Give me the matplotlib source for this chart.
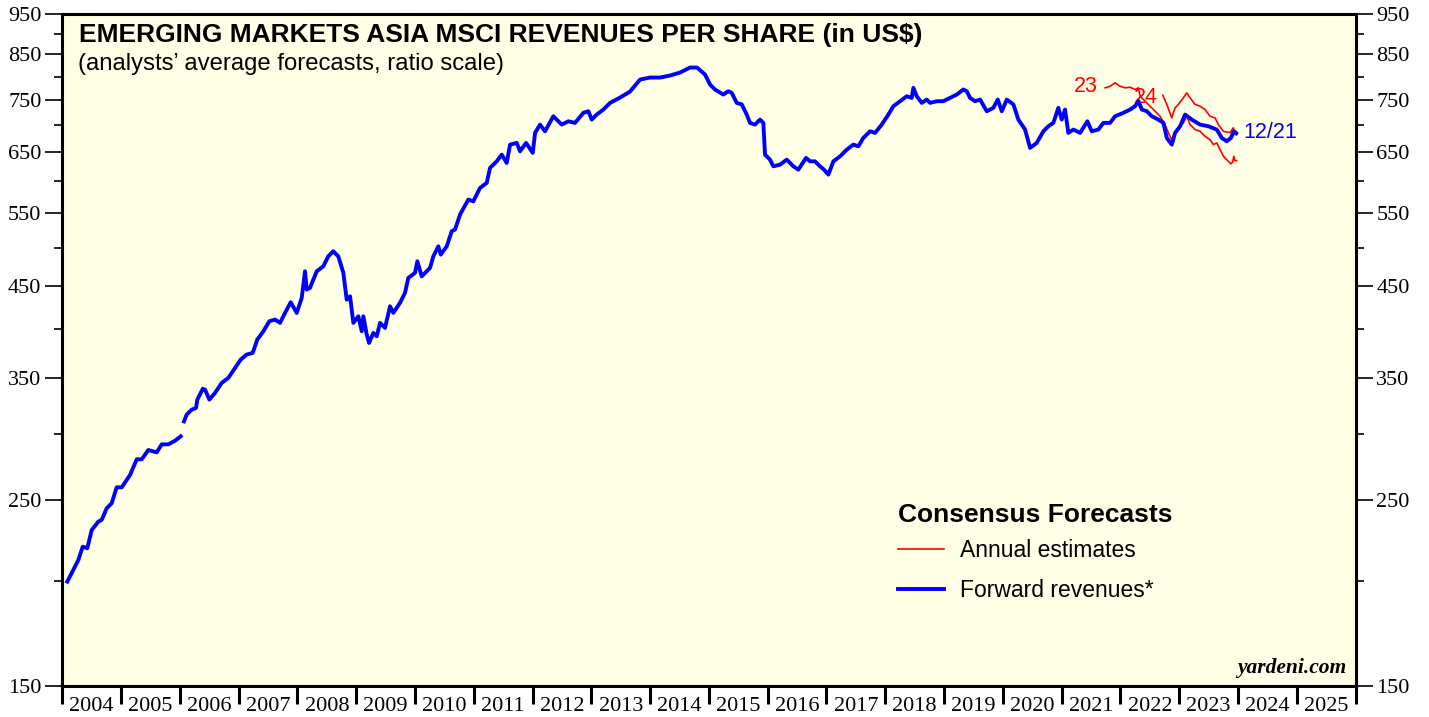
"""plot.py"""

import matplotlib
matplotlib.use("Agg")
import matplotlib.pyplot as plt
import matplotlib.ticker as mticker
import numpy as np

# forward revenues per share (decimal year, US$)
fwd_year = [
    2004.085, 2004.187, 2004.272, 2004.347, 2004.425, 2004.500, 2004.612, 2004.670,
    2004.755, 2004.840, 2004.925, 2005.011, 2005.152, 2005.266, 2005.351, 2005.463,
    2005.606, 2005.691, 2005.803, 2005.917, 2006.014, 2006.040,
    2006.070, 2006.116, 2006.201, 2006.275, 2006.297, 2006.389, 2006.428, 2006.501,
    2006.598, 2006.712, 2006.824, 2006.882, 2006.938, 2007.035, 2007.137, 2007.239,
    2007.317, 2007.420, 2007.522, 2007.619, 2007.704, 2007.789, 2007.886, 2007.988,
    2008.073, 2008.129, 2008.158, 2008.214, 2008.328, 2008.440, 2008.525, 2008.610,
    2008.695, 2008.781, 2008.838, 2008.895, 2008.951, 2009.036, 2009.094, 2009.121,
    2009.179, 2009.218, 2009.291, 2009.349, 2009.405, 2009.490, 2009.575, 2009.631,
    2009.745, 2009.830, 2009.886, 2010.000, 2010.040, 2010.114, 2010.255, 2010.312,
    2010.397, 2010.438, 2010.540, 2010.625, 2010.681, 2010.766, 2010.907, 2010.992,
    2011.106, 2011.220, 2011.276, 2011.390, 2011.475, 2011.560, 2011.617, 2011.731,
    2011.787, 2011.889, 2012.003, 2012.042, 2012.127, 2012.212, 2012.353, 2012.496,
    2012.608, 2012.722, 2012.864, 2012.949, 2013.006, 2013.091, 2013.204, 2013.318,
    2013.488, 2013.658, 2013.828, 2013.998, 2014.168, 2014.338, 2014.508, 2014.678,
    2014.798, 2014.934, 2015.019, 2015.104, 2015.245, 2015.330, 2015.388, 2015.473,
    2015.558, 2015.643, 2015.699, 2015.784, 2015.869, 2015.926, 2015.954, 2016.039,
    2016.096, 2016.210, 2016.324, 2016.436, 2016.521, 2016.652, 2016.720, 2016.805,
    2016.890, 2016.958, 2017.032, 2017.117, 2017.231, 2017.345, 2017.457, 2017.542,
    2017.627, 2017.741, 2017.826, 2017.940, 2018.053, 2018.137, 2018.251, 2018.365,
    2018.450, 2018.478, 2018.535, 2018.621, 2018.706, 2018.762, 2018.876, 2018.988,
    2019.102, 2019.216, 2019.328, 2019.386, 2019.442, 2019.527, 2019.613, 2019.727,
    2019.839, 2019.914, 2019.982, 2020.067, 2020.179, 2020.264, 2020.378, 2020.463,
    2020.577, 2020.689, 2020.774, 2020.859, 2020.944, 2021.002, 2021.058, 2021.114,
    2021.200, 2021.314, 2021.438, 2021.513, 2021.625, 2021.710, 2021.824, 2021.909,
    2022.050, 2022.164, 2022.249, 2022.306, 2022.364, 2022.449, 2022.534, 2022.646,
    2022.731, 2022.789, 2022.874, 2022.930, 2023.015, 2023.100, 2023.214, 2023.355,
    2023.496, 2023.639, 2023.724, 2023.809, 2023.880, 2023.930, 2023.970,
]
fwd_value = [
    199.8, 206.3, 212.0, 219.9, 219.0, 230.2, 235.6, 236.7,
    244.4, 247.8, 258.9, 258.9, 267.8, 279.6, 279.6, 286.8,
    285.0, 291.3, 291.3, 294.2, 297.8, np.nan,
    310.3, 316.1, 320.4, 322.0, 329.4, 339.3, 338.6, 329.4,
    335.5, 344.9, 349.6, 354.5, 359.4, 367.7, 372.8, 374.5,
    388.5, 397.4, 408.5, 410.4, 406.7, 418.0, 430.4, 418.0,
    435.6, 468.6, 445.7, 447.8, 468.6, 475.1, 488.3, 495.1,
    488.3, 466.6, 433.5, 437.5, 406.7, 414.1, 397.4, 414.1,
    393.8, 384.9, 395.6, 392.0, 406.7, 401.1, 425.7, 418.0,
    429.7, 441.7, 460.1, 466.6, 481.7, 462.1, 473.0, 488.3,
    501.9, 490.6, 501.9, 523.1, 525.5, 547.6, 570.6, 567.9,
    589.2, 597.3, 622.4, 633.8, 645.6, 631.0, 663.6, 666.7,
    651.5, 666.7, 648.7, 685.3, 701.1, 688.3, 717.3, 701.1,
    707.5, 704.4, 724.1, 727.3, 710.8, 720.7, 730.7, 744.2,
    755.1, 767.7, 793.4, 797.8, 797.8, 802.2, 808.8, 820.0,
    820.0, 804.4, 782.6, 772.0, 761.4, 768.4, 765.0, 744.2,
    741.2, 720.7, 704.4, 701.1, 710.8, 704.4, 645.6, 636.8,
    625.2, 628.1, 636.8, 625.2, 619.5, 639.8, 633.8, 633.8,
    625.2, 619.5, 611.1, 633.8, 642.6, 654.5, 663.6, 660.5,
    675.9, 688.3, 685.3, 701.1, 720.7, 737.4, 747.6, 757.8,
    754.5, 775.6, 757.8, 744.2, 751.0, 744.2, 747.6, 747.6,
    754.5, 761.4, 772.0, 768.4, 754.5, 747.6, 751.0, 727.3,
    734.2, 751.0, 727.3, 751.0, 741.2, 710.8, 691.6, 657.6,
    666.7, 688.3, 697.9, 704.4, 734.2, 710.8, 730.7, 685.3,
    691.6, 685.3, 707.5, 688.3, 691.6, 704.4, 704.4, 717.3,
    724.1, 730.7, 737.4, 747.6, 730.7, 727.3, 717.3, 710.8,
    704.4, 675.9, 663.6, 685.3, 697.9, 720.7, 710.8, 701.1,
    697.9, 691.6, 675.9, 669.7, 675.9, 688.3, 684.5,
]

# annual consensus estimates, 2023
est23_year = [
    2021.740, 2021.825, 2021.910, 2021.995, 2022.080, 2022.165, 2022.250, 2022.306,
    2022.335, 2022.420, 2022.505, 2022.590, 2022.675, 2022.760, 2022.816, 2022.874,
    2022.930, 2022.986, 2023.071, 2023.129, 2023.185, 2023.270, 2023.355, 2023.440,
    2023.525, 2023.581, 2023.639, 2023.695, 2023.752, 2023.837, 2023.880, 2023.910,
    2023.930, 2023.950, 2023.975,
]
est23_value = [
    775.6, 779.0, 786.3, 779.0, 775.6, 776.9, 772.0, 775.6,
    757.8, 747.6, 737.4, 727.3, 717.3, 701.1, 685.3, 672.7,
    685.3, 694.9, 704.4, 717.3, 701.1, 691.6, 688.3, 678.9,
    672.7, 663.6, 666.7, 654.5, 642.6, 633.8, 629.3, 632.8,
    642.6, 635.0, 635.0,
]

# annual consensus estimates, 2024
est24_year = [
    2022.721, 2022.789, 2022.874, 2022.930, 2022.986, 2023.071, 2023.129, 2023.185,
    2023.270, 2023.355, 2023.440, 2023.525, 2023.610, 2023.667, 2023.752, 2023.866,
    2023.920, 2023.950, 2023.975,
]
est24_value = [
    760.0, 741.2, 714.2, 734.2, 741.2, 754.5, 765.0, 754.5,
    741.2, 737.4, 730.7, 717.3, 714.2, 701.1, 688.3, 685.8,
    694.9, 685.3, 687.7,
]

years = list(range(2004, 2026))
y_major = [150, 250, 350, 450, 550, 650, 750, 850, 950]
y_minor = [200, 300, 400, 500, 600, 700, 800, 900]

BLUE = "#0000ff"
RED = "#ff0000"
serif = ["Liberation Serif", "DejaVu Serif"]
sans = ["Liberation Sans", "DejaVu Sans"]

fig = plt.figure(figsize=(14.29, 7.17), dpi=100)
ax = fig.add_axes([0.0436, 0.0432, 0.905, 0.9373])
ax.set_facecolor("#ffffe6")

ax.plot(est23_year, est23_value, color=RED, lw=1.2, label="Annual estimates", zorder=3)
ax.plot(est24_year, est24_value, color=RED, lw=1.2, zorder=3)
ax.plot(fwd_year, fwd_value, color=BLUE, lw=2.8, label="Forward revenues*", zorder=4)

ax.set_yscale("log")
ax.set_ylim(150, 950)
ax.set_xlim(2004, 2026)

ax.yaxis.set_major_locator(mticker.FixedLocator(y_major))
ax.yaxis.set_major_formatter(mticker.FixedFormatter([str(v) for v in y_major]))
ax.yaxis.set_minor_locator(mticker.FixedLocator(y_minor))
ax.yaxis.set_minor_formatter(mticker.NullFormatter())

ax.xaxis.set_major_locator(mticker.FixedLocator(years + [2026]))
ax.xaxis.set_major_formatter(mticker.NullFormatter())
ax.xaxis.set_minor_locator(mticker.FixedLocator([y + 0.5 for y in years]))
ax.xaxis.set_minor_formatter(mticker.FixedFormatter([str(y) for y in years]))

ax.tick_params(axis="y", which="major", direction="out", length=12, width=1.2,
               left=True, right=True, labelleft=True, labelright=True,
               labelsize=16, pad=3)
ax.tick_params(axis="y", which="minor", direction="out", length=6, width=1.2,
               left=True, right=True)
ax.tick_params(axis="x", which="major", direction="out", length=13, width=2.2)
ax.tick_params(axis="x", which="minor", length=0, labelsize=16, pad=8)
plt.setp(ax.yaxis.get_ticklabels(), family=serif)
plt.setp(ax.xaxis.get_ticklabels(minor=True), family=serif)

for s in ax.spines.values():
    s.set_linewidth(2.2)

ax.text(0.013, 0.987, "EMERGING MARKETS ASIA MSCI REVENUES PER SHARE (in US$)",
        transform=ax.transAxes, ha="left", va="top", fontsize=19,
        fontweight="bold", family=sans)
ax.text(0.012, 0.942, "(analysts\u2019 average forecasts, ratio scale)",
        transform=ax.transAxes, ha="left", va="top", fontsize=17.2, family=sans)

ax.text(est23_year[0] - 0.12, est23_value[0] * 1.005, "23", color=RED,
        ha="right", va="center", fontsize=15.5, family=sans)
ax.text(est24_year[0] - 0.5, est24_value[0] * 0.995, "24", color=RED,
        ha="left", va="center", fontsize=15.5, family=sans)
ax.text(fwd_year[-1] + 0.12, fwd_value[-1] * 1.003, "12/21", color=BLUE,
        ha="left", va="center", fontsize=15.5, family=sans)

ax.text(0.993, 0.012, "yardeni.com", transform=ax.transAxes, ha="right",
        va="bottom", fontsize=15.5, fontweight="bold", fontstyle="italic",
        family=serif)

leg = ax.legend(loc="upper left", bbox_to_anchor=(0.632, 0.300), frameon=False,
                title="Consensus Forecasts", handlelength=2.0,
                handletextpad=0.7, labelspacing=0.75, borderpad=0.3,
                prop={"family": sans, "size": 16.5})
leg.get_title().set_fontsize(19)
leg.get_title().set_fontweight("bold")
leg.get_title().set_family(sans)
leg._legend_box.align = "left"
leg._legend_box.sep = 9

fig.savefig("out.png", dpi=100, facecolor="white")
